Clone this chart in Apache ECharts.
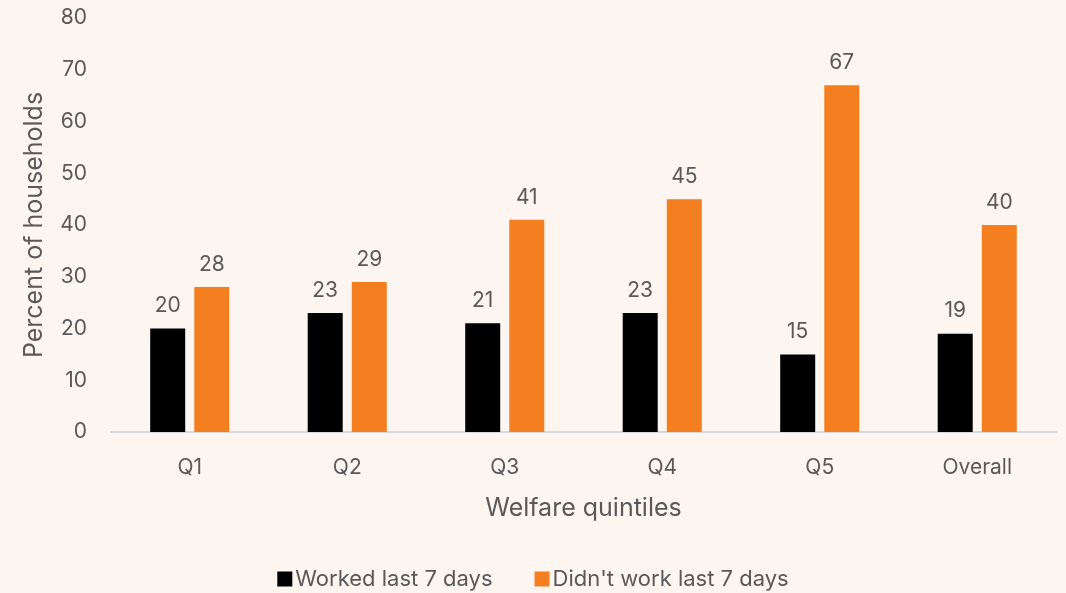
<!DOCTYPE html>
<html>
<head>
<meta charset="utf-8">
<script src="https://cdn.jsdelivr.net/npm/echarts@6/dist/echarts.min.js"></script>
<style>
html,body{margin:0;padding:0;background:#fcf5f0;}
#chart{width:1066px;height:593px;}
</style>
</head>
<body>
<div id="chart"></div>
<script>
const categories = ['Q1', 'Q2', 'Q3', 'Q4', 'Q5', 'Overall'];
const worked = [20, 23, 21, 23, 15, 19];
const didntWork = [28, 29, 41, 45, 67, 40];
const seriesNames = ['Worked last 7 days', "Didn't work last 7 days"];
const yTicks = { min: 0, max: 80, interval: 10 };

const font = 'Inter, "Noto Sans", sans-serif';
const textColor = '#595959';
const chart = echarts.init(document.getElementById('chart'));
const labelStyle = { show: true, position: 'top', distance: 12, color: textColor, fontSize: 21, fontFamily: font };
chart.setOption({
  backgroundColor: '#fcf5f0',
  animation: false,
  grid: { left: 111, right: 10, top: 18, bottom: 161 },
  legend: {
    bottom: -2, left: 'center',
    itemWidth: 15, itemHeight: 15, itemGap: 42,
    icon: 'rect',
    textStyle: { color: textColor, fontSize: 22, fontFamily: font, padding: [0, 0, 0, -2] },
    data: seriesNames
  },
  xAxis: {
    type: 'category', data: categories,
    axisLine: { lineStyle: { color: '#d9d9d9', width: 2 } },
    axisTick: { show: false },
    axisLabel: { color: textColor, fontSize: 21, fontFamily: font, margin: 25 },
    name: 'Welfare quintiles', nameLocation: 'middle', nameGap: 64,
    nameTextStyle: { color: textColor, fontSize: 25, fontFamily: font }
  },
  yAxis: {
    type: 'value', min: yTicks.min, max: yTicks.max, interval: yTicks.interval,
    axisLine: { show: false }, axisTick: { show: false }, splitLine: { show: false },
    axisLabel: { color: textColor, fontSize: 21, fontFamily: font, margin: 24 },
    name: 'Percent of households', nameLocation: 'middle', nameGap: 64,
    nameTextStyle: { color: textColor, fontSize: 25, fontFamily: font }
  },
  series: [
    { name: seriesNames[0], type: 'bar', data: worked, barWidth: 35, barGap: '26%',
      itemStyle: { color: '#000000' }, label: labelStyle },
    { name: seriesNames[1], type: 'bar', data: didntWork, barWidth: 35,
      itemStyle: { color: '#f47f20' }, label: labelStyle }
  ]
});
</script>
</body>
</html>
